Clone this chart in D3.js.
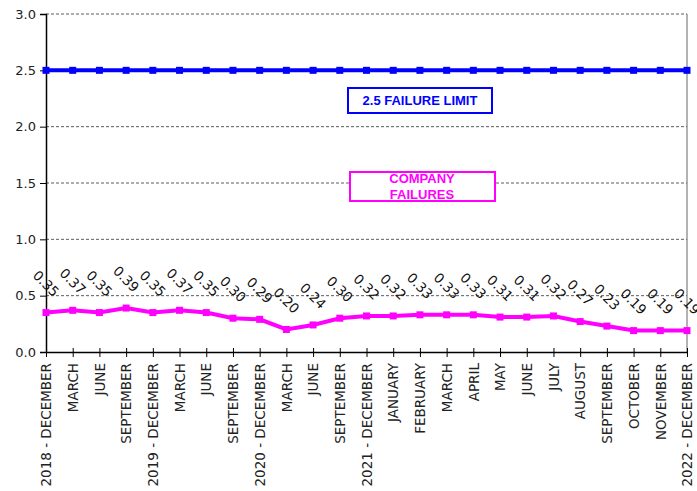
<!DOCTYPE html>
<html><head><meta charset="utf-8">
<script src="https://cdn.jsdelivr.net/npm/d3@7"></script>
<style>body{margin:0;background:#fff;} svg{display:block;}</style>
</head><body>
<script>
const categories = ["2018 - DECEMBER","MARCH","JUNE","SEPTEMBER","2019 - DECEMBER","MARCH","JUNE","SEPTEMBER","2020 - DECEMBER","MARCH","JUNE","SEPTEMBER","2021 - DECEMBER","JANUARY","FEBRUARY","MARCH","APRIL","MAY","JUNE","JULY","AUGUST","SEPTEMBER","OCTOBER","NOVEMBER","2022 - DECEMBER"];
const companyFailures = [0.35,0.37,0.35,0.39,0.35,0.37,0.35,0.30,0.29,0.20,0.24,0.30,0.32,0.32,0.33,0.33,0.33,0.31,0.31,0.32,0.27,0.23,0.19,0.19,0.19];
const failureLimit = categories.map(() => 2.5);
const yTicks = [0,0.5,1.0,1.5,2.0,2.5,3.0];
const legendLimit = "2.5 FAILURE LIMIT";
const legendCompany = ["COMPANY","FAILURES"];

const W=697,H=491;
const m={l:46,r:10,t:14};
const plotRight=687, plotBottom=352;
const svg=d3.select("body").append("svg").attr("width",W).attr("height",H);
const x=d3.scalePoint().domain(d3.range(categories.length)).range([m.l,plotRight]);
const y=d3.scaleLinear().domain([0,3]).range([plotBottom,m.t]);
const font="DejaVu Sans";

// gridlines
svg.append("g").selectAll("line").data(yTicks.filter(d=>d>0)).join("line")
 .attr("x1",m.l).attr("x2",plotRight).attr("y1",d=>y(d)).attr("y2",d=>y(d))
 .attr("stroke","#333").attr("stroke-width",0.8).attr("stroke-dasharray","3,2");
// right border
svg.append("line").attr("x1",plotRight).attr("x2",plotRight).attr("y1",m.t).attr("y2",plotBottom).attr("stroke","#666").attr("stroke-width",1);

// y axis
const ya=svg.append("g").attr("transform",`translate(${m.l},0)`)
 .call(d3.axisLeft(y).tickValues(yTicks).tickFormat(d3.format(".1f")).tickSize(6).tickPadding(4));
ya.select(".domain").attr("stroke","#000").attr("stroke-width",1.5);
ya.selectAll(".tick line").attr("stroke","#000");
ya.selectAll("text").attr("font-family",font).attr("font-size",13).attr("fill","#222");

// x axis
const xa=svg.append("g").attr("transform",`translate(0,${plotBottom})`)
 .call(d3.axisBottom(x).tickSize(0).tickFormat(i=>categories[i]));
xa.select(".domain").attr("stroke","#000").attr("stroke-width",1.5);
xa.selectAll(".tick").append("line").attr("y1",-4).attr("y2",5).attr("stroke","#000");
xa.selectAll("text").attr("font-family",font).attr("font-size",13.5).attr("fill","#222")
 .attr("transform","rotate(-90)").attr("text-anchor","end").attr("dx",-11).attr("dy","0.35em").attr("x",0).attr("y",0);

// lines
const line=d3.line().x((d,i)=>x(i)).y(d=>y(d));
function series(data,color){
 svg.append("path").datum(data).attr("d",line).attr("fill","none").attr("stroke",color).attr("stroke-width",4);
 svg.append("g").selectAll("rect").data(data).join("rect")
  .attr("x",(d,i)=>x(i)-3.5).attr("y",d=>y(d)-3.5).attr("width",7).attr("height",7).attr("fill",color);
}
series(failureLimit,"#0000ff");
series(companyFailures,"#ff00ff");

// data labels
svg.append("g").selectAll("text").data(companyFailures).join("text")
 .attr("transform",(d,i)=>`translate(${x(i)},${y(d)-29}) rotate(45)`)
 .attr("text-anchor","middle").attr("dy","0.35em")
 .attr("font-family",font).attr("font-size",13.5).attr("fill","#111")
 .text(d=>d3.format(".2f")(d));

// legend boxes
svg.append("rect").attr("x",348).attr("y",88).attr("width",144).attr("height",25).attr("fill","#fff").attr("stroke","#0000ff").attr("stroke-width",2);
svg.append("text").attr("x",420).attr("y",105).attr("text-anchor","middle").attr("font-family","Liberation Sans").attr("font-weight","bold").attr("font-size",13).attr("fill","#0000ff").text(legendLimit);
svg.append("rect").attr("x",350).attr("y",172).attr("width",145).attr("height",29).attr("fill","#fff").attr("stroke","#ff00ff").attr("stroke-width",2);
svg.append("g").selectAll("text").data(legendCompany).join("text").attr("x",422).attr("y",(d,i)=>183+i*16).attr("text-anchor","middle").attr("font-family","Liberation Sans").attr("font-weight","bold").attr("font-size",13).attr("fill","#ff00ff").text(d=>d);
</script>
</body></html>
